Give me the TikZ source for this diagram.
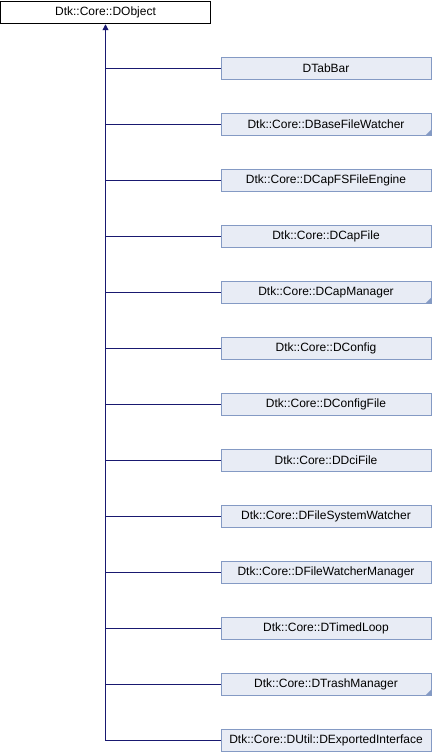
\documentclass[tikz,border=0pt]{standalone}
\usepackage{fontspec}
\setmainfont{Liberation Sans}
\usetikzlibrary{arrows.meta}
\definecolor{boxfill}{RGB}{232,236,245}
\definecolor{boxline}{RGB}{132,154,196}
\definecolor{edge}{RGB}{25,25,112}
\begin{document}
\begin{tikzpicture}[x=1pt,y=-1pt,
  base/.style={draw, minimum width=210pt, minimum height=22.5pt, inner sep=0pt, font=\fontsize{12}{14}\selectfont, line width=1pt},
  rootbox/.style={base, fill=white, draw=black},
  childbox/.style={base, fill=boxfill, draw=boxline},
  conn/.style={draw=edge, line width=1pt}]
\useasboundingbox (0,0) rectangle (432,752);
\node[rootbox] (root) at (105.5,12.5) {Dtk::Core::DObject};
\coordinate (bottom) at (105.5,740.5);
\foreach \i/\name/\lab/\tri in {
  0/c0/DTabBar/0,
  1/c1/Dtk::Core::DBaseFileWatcher/1,
  2/c2/Dtk::Core::DCapFSFileEngine/0,
  3/c3/Dtk::Core::DCapFile/0,
  4/c4/Dtk::Core::DCapManager/1,
  5/c5/Dtk::Core::DConfig/0,
  6/c6/Dtk::Core::DConfigFile/0,
  7/c7/Dtk::Core::DDciFile/0,
  8/c8/Dtk::Core::DFileSystemWatcher/0,
  9/c9/Dtk::Core::DFileWatcherManager/0,
  10/c10/Dtk::Core::DTimedLoop/0,
  11/c11/Dtk::Core::DTrashManager/1,
  12/c12/Dtk::Core::DUtil::DExportedInterface/0} {
  \node[childbox] (\name) at (326,68.5+56*\i) {\lab};
  \coordinate (j\name) at (105.5,68.5+56*\i);
  \draw[conn] (j\name) -- (\name.west);
  \ifnum\tri=1
    \fill[boxline] (\name.south east) ++(-0.5,-0.5) -- ++(-6,0) -- ++(6,-6) -- cycle;
  \fi
}
\draw[conn, -{Triangle[length=6pt,width=6pt]}] (bottom) -- (root.south);
\end{tikzpicture}
\end{document}
